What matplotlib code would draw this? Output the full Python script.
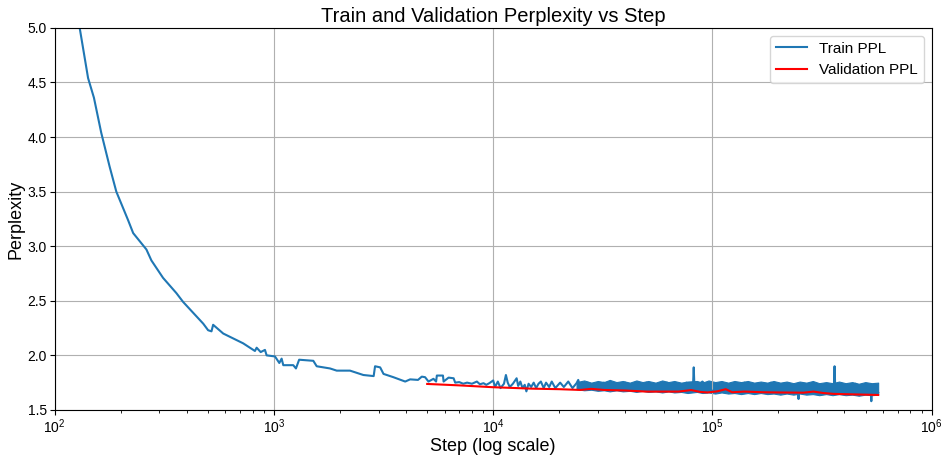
import numpy as np
import matplotlib
matplotlib.use("Agg")
import matplotlib.pyplot as plt

plt.rcParams['font.family'] = ['Liberation Sans', 'DejaVu Sans']
plt.rcParams['mathtext.fontset'] = 'custom'
plt.rcParams['mathtext.rm'] = 'Liberation Sans'
plt.rcParams['mathtext.it'] = 'Liberation Sans:italic'

# Train perplexity
train_steps = [125, 130, 142, 151, 163, 178, 191, 216, 228, 262, 276, 312, 359, 385,
               428, 476, 501, 519, 528, 587, 630, 724, 777, 819, 834, 870, 910, 926,
               1011, 1058, 1084, 1103, 1225, 1260, 1303, 1512, 1567, 1802, 1933,
               2223, 2557, 2850, 2892, 3051, 3160, 3505, 3969, 4180, 4540, 4725,
               4890, 5070, 5340, 5490, 5534, 5900, 5940, 6260, 6600, 6710, 7000,
               7300, 7600, 8000, 8425, 8700, 9031, 9300,
               9600, 10000, 10200, 10500, 10800, 11200, 11430, 11650, 11900, 12300,
               12790, 13000, 13300, 13600, 13930, 14170, 14500, 14900, 15300, 15700,
               16100, 16500, 17000, 17420, 18000, 18500, 19200, 20200, 21000, 22000,
               23000, 24000, 24430, 25000, 27000, 29000, 32000, 36000, 40000, 45000,
               50000, 56000, 62000, 70000, 76000, 81500, 82170, 82800, 90000, 100000,
               110000, 125000, 140000, 160000, 185000, 210000, 245000, 247000, 249000,
               290000, 320000, 358000, 360600, 363000, 400000, 450000, 500000, 528000,
               530500, 533000, 550000, 570000]
train_ppl = [5.30, 5.00, 4.54, 4.36, 4.04, 3.73, 3.50, 3.24, 3.12, 2.97, 2.87, 2.71,
             2.57, 2.49, 2.39, 2.29, 2.23, 2.22, 2.28, 2.20, 2.17, 2.11, 2.07, 2.04,
             2.07, 2.03, 2.05, 2.00, 1.99, 1.93, 1.97, 1.91, 1.91, 1.88, 1.96, 1.95,
             1.90, 1.88, 1.86, 1.86, 1.82, 1.81, 1.90, 1.89, 1.83, 1.80, 1.76, 1.78,
             1.775, 1.805, 1.80, 1.76, 1.785, 1.76, 1.815, 1.815, 1.76, 1.796, 1.79,
             1.75, 1.755, 1.74, 1.75, 1.74, 1.76, 1.735, 1.745, 1.73,
             1.745, 1.77, 1.71, 1.76, 1.70, 1.74, 1.82, 1.75, 1.71,
             1.74, 1.79, 1.72, 1.76, 1.70, 1.73, 1.67, 1.74, 1.71, 1.75, 1.70,
             1.74, 1.76, 1.70, 1.75, 1.71, 1.76, 1.70, 1.75, 1.71, 1.76,
             1.70, 1.745, 1.775, 1.70, 1.75, 1.69, 1.75, 1.69, 1.75, 1.68,
             1.75, 1.68, 1.75, 1.68, 1.75, 1.71, 1.89, 1.70, 1.76, 1.67,
             1.75, 1.66, 1.75, 1.67, 1.75, 1.66, 1.71, 1.60, 1.70,
             1.74, 1.66, 1.72, 1.90, 1.72, 1.65, 1.74, 1.66, 1.70,
             1.58, 1.70, 1.73, 1.66]

# Envelope of the dense noisy part of the train curve
band_steps = [24000, 26000, 28000, 30000, 32000, 34000, 36500, 39000, 42000, 45000,
              48000, 51000, 55000, 59000, 63000, 67000, 72000, 77000, 85000, 90000,
              96000, 103000, 110000, 118000, 126000, 135000, 145000, 155000, 166000, 178000,
              190000, 204000, 218000, 234000, 250000, 268000, 287000, 307000, 330000, 353000,
              378000, 405000, 434000, 465000, 498000, 533000, 570000]
band_hi = [1.755, 1.77, 1.75, 1.765, 1.755, 1.775, 1.755, 1.765, 1.75, 1.77,
           1.755, 1.765, 1.75, 1.77, 1.755, 1.765, 1.75, 1.76, 1.765, 1.75,
           1.77, 1.755, 1.765, 1.75, 1.765, 1.755, 1.765, 1.75, 1.76, 1.75,
           1.765, 1.75, 1.76, 1.745, 1.76, 1.75, 1.765, 1.745, 1.755, 1.745,
           1.76, 1.745, 1.755, 1.74, 1.755, 1.745, 1.75]
band_lo = [1.69, 1.68, 1.685, 1.675, 1.68, 1.67, 1.68, 1.67, 1.675, 1.665,
           1.675, 1.665, 1.67, 1.66, 1.67, 1.66, 1.665, 1.655, 1.665, 1.655,
           1.66, 1.65, 1.66, 1.65, 1.655, 1.645, 1.655, 1.645, 1.655, 1.645,
           1.65, 1.64, 1.65, 1.64, 1.65, 1.64, 1.645, 1.635, 1.645, 1.635,
           1.645, 1.635, 1.64, 1.63, 1.64, 1.635, 1.64]

# Validation perplexity
val_steps = [5000, 7000, 10000, 15000, 20000, 25000, 28000, 32000, 40000, 50000,
             60000, 70000, 80000, 88000, 95000, 105000, 115000, 123000, 140000,
             170000, 200000, 260000, 289000, 320000, 357000, 450000, 570000]
val_ppl = [1.738, 1.725, 1.708, 1.695, 1.69, 1.683, 1.693, 1.683, 1.678, 1.668,
           1.668, 1.668, 1.682, 1.665, 1.66, 1.67, 1.69, 1.662, 1.668, 1.662, 1.66,
           1.658, 1.668, 1.655, 1.647, 1.642, 1.637]

fig, ax = plt.subplots(figsize=(9.43, 4.57), dpi=100)
fig.subplots_adjust(left=0.058, right=0.988, bottom=0.103, top=0.939)

ax.fill_between(band_steps, band_lo, band_hi, color='#1f77b4', linewidth=0.8)
ax.plot(train_steps, train_ppl, color='#1f77b4', linewidth=1.5, label='Train PPL')
ax.plot(val_steps, val_ppl, color='red', linewidth=1.5, label='Validation PPL')

ax.set_xscale('log')
ax.set_xlim(1e2, 1e6)
ax.set_ylim(1.5, 5.0)
ax.set_yticks(np.arange(1.5, 5.01, 0.5))
ax.grid(True, which='major', color='#b0b0b0', linewidth=0.8)

ax.set_title('Train and Validation Perplexity vs Step', fontsize=14.5, pad=4)
ax.set_xlabel('Step (log scale)', fontsize=13, labelpad=1)
ax.set_ylabel('Perplexity', fontsize=13, labelpad=2)
ax.tick_params(labelsize=10, pad=2)
ax.legend(loc='upper right', fontsize=11)

fig.savefig('out.png', dpi=100)
